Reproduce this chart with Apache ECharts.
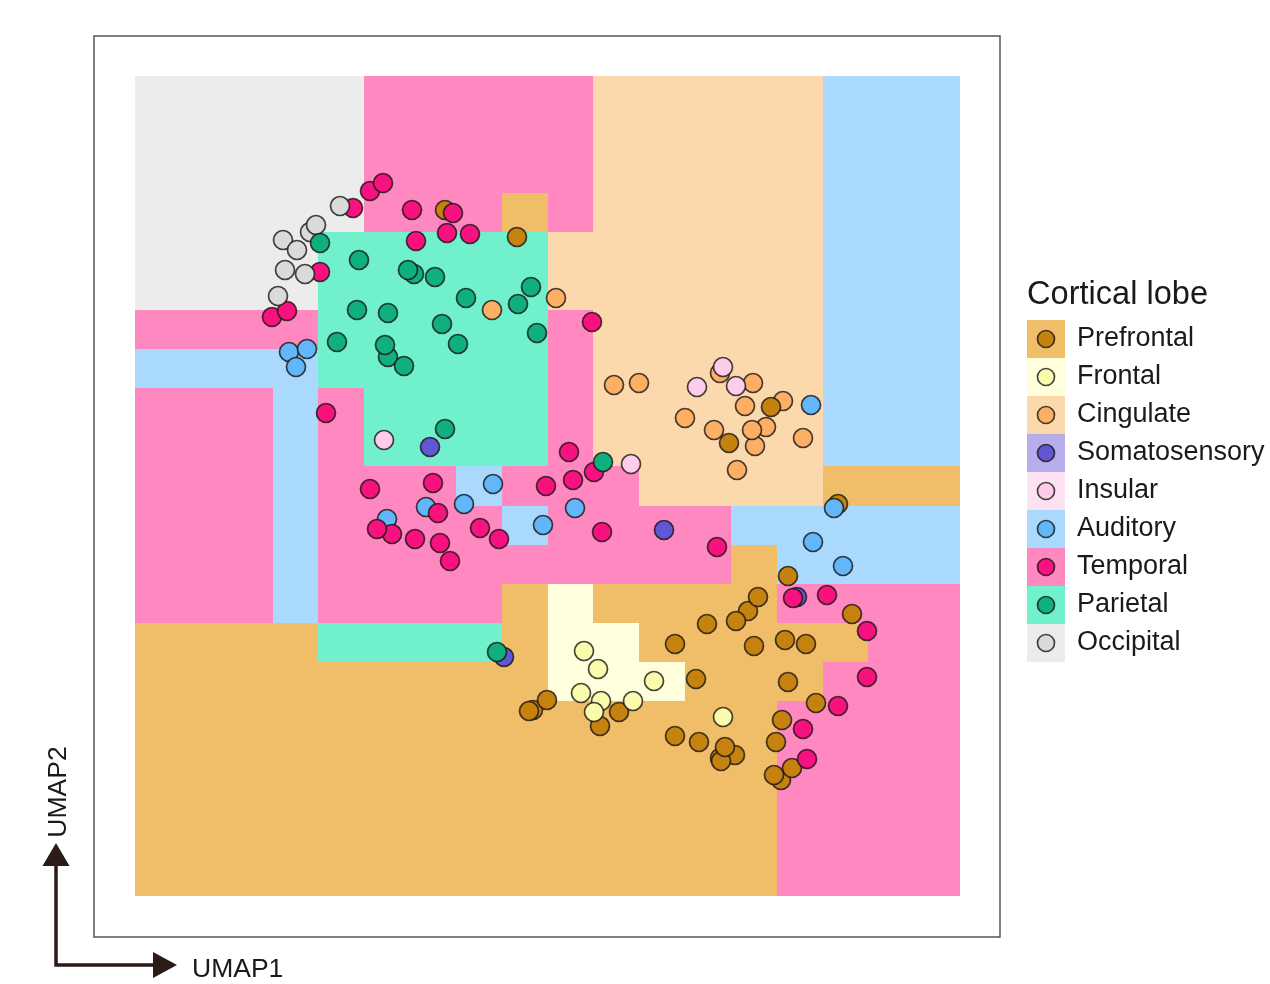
<!DOCTYPE html>
<html>
<head>
<meta charset="utf-8">
<title>Cortical lobe UMAP</title>
<script src="https://cdn.jsdelivr.net/npm/echarts@6/dist/echarts.min.js"></script>
<style>
html, body { margin: 0; padding: 0; background: #fff; }
#main { width: 1270px; height: 984px; }
</style>
</head>
<body>
<div id="main"></div>
<script>
var lobes = ['Prefrontal', 'Frontal', 'Cingulate', 'Somatosensory', 'Insular', 'Auditory', 'Temporal', 'Parietal', 'Occipital'];
var lobeCodes = 'PFCSIATRO';
var regionColors = ['#F0BE69', '#FFFFDC', '#FCD9AD', '#B5AEEA', '#FDE3F2', '#A9DAFD', '#FF88C0', '#70F0CC', '#ECECEC'];
var pointColors = ['#C5820F', '#FBFBAE', '#FDB063', '#6257D3', '#FDCDEB', '#62B6FA', '#F7127F', '#0FB07E', '#DADADA'];

// predicted lobe of each cell, top row first, 18 columns by 21 rows
var regionRows = [
    'OOOOOTTTTTCCCCCAAA',
    'OOOOOTTTTTCCCCCAAA',
    'OOOOOTTTTTCCCCCAAA',
    'OOOOOTTTPTCCCCCAAA',
    'OOOORRRRRCCCCCCAAA',
    'OOOORRRRRCCCCCCAAA',
    'TTTTRRRRRTCCCCCAAA',
    'AAAARRRRRTCCCCCAAA',
    'TTTATRRRRTCCCCCAAA',
    'TTTATRRRRTCCCCCAAA',
    'TTTATTTATTTCCCCPPP',
    'TTTATTTTATTTTAAAAA',
    'TTTATTTTTTTTTPAAAA',
    'TTTATTTTPFPPPPTTTT',
    'PPPPRRRRPFFPPPPPTT',
    'PPPPPPPPPFFFPPPTTT',
    'PPPPPPPPPPPPPPTTTT',
    'PPPPPPPPPPPPPPTTTT',
    'PPPPPPPPPPPPPPTTTT',
    'PPPPPPPPPPPPPPTTTT',
    'PPPPPPPPPPPPPPTTTT'
];

var cingulate = [[3.57, 5.86], [4.21, 5.98], [4.79, 5.11], [5.04, 5.13], [5.85, 5.23], [6.18, 5.13], [6.48, 4.95], [6.10, 4.90], [5.50, 4.78], [5.79, 4.66], [6.31, 4.69], [6.20, 4.50], [6.17, 4.66], [6.68, 4.58], [6.02, 4.26]];
var prefrontal = [[3.10, 6.86], [3.82, 6.59], [6.36, 4.89], [5.94, 4.53], [7.03, 3.92], [6.53, 3.20], [3.98, 1.86], [3.94, 1.85], [4.12, 1.96], [4.65, 1.70], [4.84, 1.84], [5.40, 2.52], [5.61, 2.17], [5.40, 1.60], [5.64, 1.54], [6.13, 2.85], [6.23, 2.99], [6.01, 2.75], [5.72, 2.72], [6.19, 2.50], [6.50, 2.56], [6.71, 2.52], [6.53, 2.14], [7.17, 2.82], [6.81, 1.93], [6.47, 1.76], [6.41, 1.54], [5.85, 1.38], [6.00, 1.41], [5.86, 1.35], [5.90, 1.49], [6.46, 1.16], [6.57, 1.28], [6.39, 1.21]];
var frontal = [[4.49, 2.45], [4.63, 2.27], [5.19, 2.15], [4.46, 2.03], [4.66, 1.95], [4.98, 1.95], [4.59, 1.84], [5.88, 1.79]];
var somatosensory = [[2.95, 4.49], [5.29, 3.66], [3.69, 2.39], [6.62, 2.99]];
var insular = [[5.88, 5.29], [5.62, 5.09], [6.01, 5.10], [4.96, 4.32], [2.49, 4.56]];
var auditory = [[1.54, 5.44], [1.72, 5.47], [1.61, 5.29], [3.58, 4.12], [3.29, 3.92], [2.91, 3.89], [2.52, 3.77], [4.08, 3.71], [4.40, 3.88], [6.76, 4.91], [6.99, 3.88], [6.78, 3.54], [7.08, 3.30]];
var temporal = [[2.35, 7.05], [2.48, 7.13], [2.18, 6.88], [2.77, 6.86], [3.18, 6.83], [2.81, 6.55], [3.12, 6.63], [3.35, 6.62], [1.85, 6.24], [1.37, 5.79], [1.52, 5.85], [4.57, 5.74], [1.91, 4.83], [4.34, 4.44], [4.59, 4.24], [4.38, 4.16], [4.11, 4.10], [2.98, 4.13], [2.35, 4.07], [2.57, 3.62], [2.42, 3.67], [3.03, 3.83], [2.80, 3.57], [3.05, 3.53], [3.15, 3.35], [3.45, 3.68], [3.64, 3.57], [4.67, 3.64], [5.82, 3.49], [6.58, 2.98], [6.92, 3.01], [7.32, 2.65], [7.32, 2.19], [7.03, 1.90], [6.68, 1.67], [6.72, 1.37]];
var occipital = [[2.05, 6.90], [1.75, 6.64], [1.81, 6.71], [1.48, 6.56], [1.62, 6.46], [1.50, 6.26], [1.70, 6.22], [1.43, 6.00]];
var parietal = [[1.85, 6.53], [2.24, 6.36], [2.79, 6.22], [2.73, 6.26], [3.00, 6.19], [3.96, 6.09], [3.31, 5.98], [3.83, 5.92], [2.22, 5.86], [2.53, 5.83], [3.07, 5.72], [4.02, 5.63], [2.02, 5.54], [3.23, 5.52], [2.53, 5.39], [2.50, 5.51], [2.69, 5.30], [3.10, 4.67], [4.68, 4.34], [3.62, 2.44]];

// draw order, later lobes lie on top
var pointSets = [
    { lobe: 2, points: cingulate },
    { lobe: 0, points: prefrontal },
    { lobe: 1, points: frontal },
    { lobe: 3, points: somatosensory },
    { lobe: 4, points: insular },
    { lobe: 5, points: auditory },
    { lobe: 6, points: temporal },
    { lobe: 8, points: occipital },
    { lobe: 7, points: parietal }
];

var regionData = [];
regionRows.forEach(function (row, r) {
    row.split('').forEach(function (code, c) {
        regionData.push([c, r, lobeCodes.indexOf(code)]);
    });
});

// heatmap cells left faint seams, so snap each cell to whole pixels
function renderCell(params, api) {
    var center = api.coord([api.value(0), api.value(1)]);
    var size = api.size([1, 1]);
    var x0 = Math.round(center[0] - size[0] / 2);
    var x1 = Math.round(center[0] + size[0] / 2);
    var y0 = Math.round(center[1] - size[1] / 2);
    var y1 = Math.round(center[1] + size[1] / 2);
    return {
        type: 'rect',
        shape: { x: x0, y: y0, width: x1 - x0, height: y1 - y0 },
        style: { fill: regionColors[api.value(2)] }
    };
}

var outline = 'rgba(25, 20, 20, 0.8)';

var series = [
    {
        type: 'custom',
        xAxisIndex: 0,
        yAxisIndex: 0,
        renderItem: renderCell,
        encode: { x: 0, y: 1 },
        data: regionData,
        silent: true
    }
];

pointSets.forEach(function (set) {
    series.push({
        name: lobes[set.lobe],
        type: 'scatter',
        xAxisIndex: 1,
        yAxisIndex: 1,
        symbolSize: 19,
        data: set.points,
        itemStyle: { color: pointColors[set.lobe], borderColor: outline, borderWidth: 1.7, opacity: 1 },
        silent: true
    });
});

// legend, built as a small one column chart so the keys share the same look
series.push({
    type: 'custom',
    xAxisIndex: 2,
    yAxisIndex: 2,
    renderItem: renderCell,
    encode: { x: 0, y: 1 },
    data: lobes.map(function (name, i) { return [0, i, i]; }),
    silent: true
});
series.push({
    type: 'scatter',
    xAxisIndex: 2,
    yAxisIndex: 2,
    symbolSize: 17,
    data: lobes.map(function (name, i) {
        return { value: [0, i], itemStyle: { color: pointColors[i] } };
    }),
    itemStyle: { borderColor: outline, borderWidth: 1.7, opacity: 1 },
    silent: true
});

var myChart = echarts.init(document.getElementById('main'));
var arrowColor = '#2B1A16';
var textFont = 'Liberation Sans, Arial, sans-serif';

var option = {
    animation: false,
    backgroundColor: '#fff',
    textStyle: { fontFamily: textFont },
    grid: [
        { left: 135, top: 76, width: 825, height: 820 },
        { left: 1027, top: 320, width: 38, height: 342 }
    ],
    xAxis: [
        { type: 'category', gridIndex: 0, show: false, data: regionRows[0].split('').map(function (c, i) { return i; }) },
        { type: 'value', gridIndex: 0, show: false, min: 0, max: 8.25 },
        { type: 'category', gridIndex: 1, show: false, data: ['key'] }
    ],
    yAxis: [
        { type: 'category', gridIndex: 0, show: false, inverse: true, data: regionRows.map(function (r, i) { return i; }) },
        { type: 'value', gridIndex: 0, show: false, min: 0, max: 8.2 },
        {
            type: 'category',
            gridIndex: 1,
            inverse: true,
            position: 'right',
            data: lobes,
            axisLine: { show: false },
            axisTick: { show: false },
            axisLabel: { margin: 12, fontSize: 27, color: '#1a1a1a', fontFamily: textFont }
        }
    ],
    graphic: [
        {
            type: 'rect',
            shape: { x: 94, y: 36, width: 906, height: 901 },
            style: { fill: 'none', stroke: '#555', lineWidth: 1.5 },
            z: 10
        },
        {
            type: 'text',
            x: 1027,
            y: 295,
            style: { text: 'Cortical lobe', font: '32.6px ' + textFont, fill: '#1a1a1a', textAlign: 'left', textVerticalAlign: 'middle' }
        },
        {
            type: 'polyline',
            shape: { points: [[56, 862], [56, 965], [156, 965]] },
            style: { fill: 'none', stroke: arrowColor, lineWidth: 3.5 }
        },
        {
            type: 'polygon',
            shape: { points: [[56, 843], [42.5, 866], [69.5, 866]] },
            style: { fill: arrowColor }
        },
        {
            type: 'polygon',
            shape: { points: [[177, 965], [153, 952], [153, 978]] },
            style: { fill: arrowColor }
        },
        {
            type: 'text',
            x: 192,
            y: 970,
            style: { text: 'UMAP1', font: '26.5px ' + textFont, fill: '#1a1a1a', textAlign: 'left', textVerticalAlign: 'middle' }
        },
        {
            type: 'text',
            x: 59,
            y: 792,
            rotation: Math.PI / 2,
            style: { text: 'UMAP2', font: '26.5px ' + textFont, fill: '#1a1a1a', textAlign: 'center', textVerticalAlign: 'middle' }
        }
    ],
    series: series
};
myChart.setOption(option);
</script>
</body>
</html>
